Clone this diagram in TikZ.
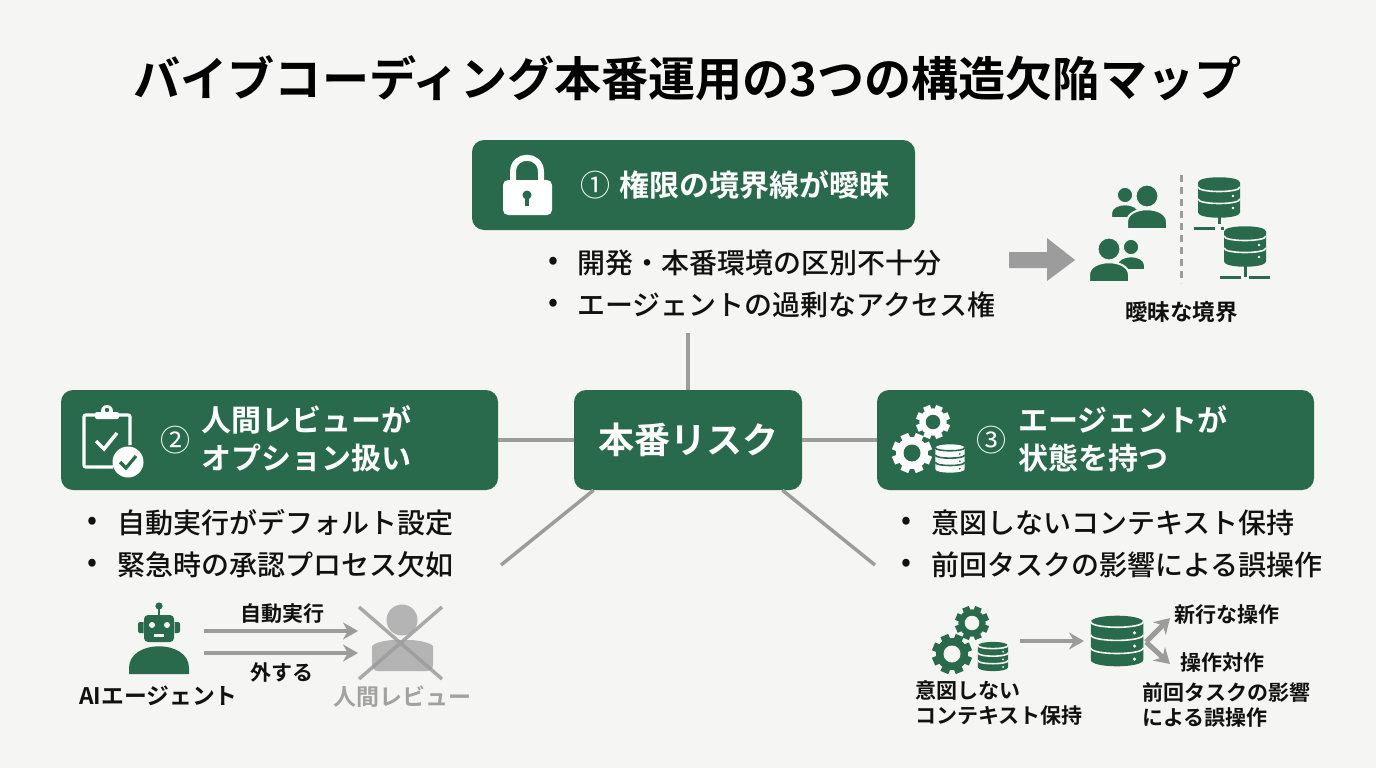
\documentclass[tikz,border=0pt]{standalone}
\usepackage{fontspec}
\usetikzlibrary{positioning,arrows.meta}
\setmainfont{Noto Sans CJK JP}[BoldFont={Noto Sans CJK JP Bold}]
\newfontfamily\jpmed{Noto Sans CJK JP Medium}
\newcommand{\fsz}[2]{\fontsize{#1}{#2}\selectfont}
\definecolor{boxgreen}{HTML}{2A6A4C}
\definecolor{paper}{HTML}{F5F5F3}
\definecolor{inkblack}{HTML}{111111}
\definecolor{linegrey}{HTML}{9C9C9C}
\definecolor{fadegrey}{HTML}{B4B4B4}

\tikzset{
  headbox/.style={draw=none, fill=boxgreen, rounded corners=12pt, inner sep=0pt},
  headtext/.style={anchor=west, inner sep=0pt, text=white, align=left, font={\fsz{30}{38}\bfseries}},
  numtext/.style={inner sep=0pt, text=white, font=\fsz{30}{30}},
  bullet/.style={anchor=west, inner sep=0pt, text=inkblack, font={\fsz{28}{28}\jpmed}},
  caption/.style={inner sep=0pt, text=inkblack, align=left, font={\fsz{21}{25}\bfseries}},
  conn/.style={draw=linegrey, line width=3.5pt},
  flow/.style={draw=linegrey, line width=4pt, -{Stealth[length=15pt,width=17pt]}},
  pics/dbicon/.style n args={3}{code={
    \fill[#1] (-21,-15) -- (-21,15) .. controls (-21,22) and (21,22) .. (21,15)
      -- (21,-15) .. controls (21,-22) and (-21,-22) .. (-21,-15) -- cycle;
    \foreach \s in {#3} {
      \draw[#2, line width=1.6pt] (-21,\s) .. controls (-21,\s+6) and (21,\s+6) .. (21,\s);
      \fill[#2] (14,\s+9) circle (1.4);
    }
  }},
  pics/gearicon/.style 2 args={code={
    \foreach \a in {0,45,90,135}
      \fill[#1, rotate=\a+22.5] (-4.2,-20) rectangle (4.2,20);
    \fill[#1] (0,0) circle (16);
    \fill[#2] (0,0) circle (8.5);
  }},
  pics/personicon/.style 2 args={code={
    \fill[#1, draw=#2, line width=2pt] (-20,33) -- (-20,26) .. controls (-20,9) and (20,9) .. (20,26) -- (20,33) -- cycle;
    \fill[#1, draw=#2, line width=1pt] (0,0) circle (11);
  }}
}

\begin{document}
\begin{tikzpicture}[x=1pt, y=-1pt, >=stealth]

  % Sheet
  \fill[paper] (0,0) rectangle (1376,768);
  \useasboundingbox (0,0) rectangle (1376,768);

  \node[inner sep=0pt, text=black, font={\fsz{47.1}{47}\bfseries}] (title) at (687.5,78) {バイブコーディング本番運用の3つの構造欠陥マップ};

  % Define nodes
  \node[headbox, minimum width=443pt, minimum height=90pt]  (head1) at (693.5,185) {};
  \node[headbox, minimum width=437pt, minimum height=100pt] (head2) at (279.5,440) {};
  \node[headbox, minimum width=437pt, minimum height=100pt] (head3) at (1095.5,440) {};
  \node[headbox, minimum width=228pt, minimum height=100pt, text=white, font={\fsz{36}{36}\bfseries}] (risk) at (688,440) {本番リスク};

  \node[numtext] (num1) at (595,185) {①};
  \node[numtext] (num2) at (175,440) {②};
  \node[numtext] (num3) at (991,440) {③};
  \node[headtext] (head1t) at (619,185) {権限の境界線が曖昧};
  \node[headtext] (head2t) at (201,439) {人間レビューが\\オプション扱い};
  \node[headtext] (head3t) at (1018,439) {エージェントが\\状態を持つ};

  % Bullets
  \node[bullet] (dot1a) at (548,263) {•};
  \node[bullet] (txt1a) at (577,263) {開発・本番環境の区別不十分};
  \node[bullet, below=42pt of dot1a.west, anchor=west] (dot1b) {•};
  \node[bullet, below=42pt of txt1a.west, anchor=west] (txt1b) {エージェントの過剰なアクセス権};
  \node[bullet] (dot2a) at (87,523) {•};
  \node[bullet] (txt2a) at (117,523) {自動実行がデフォルト設定};
  \node[bullet, below=42pt of dot2a.west, anchor=west] (dot2b) {•};
  \node[bullet, below=42pt of txt2a.west, anchor=west] (txt2b) {緊急時の承認プロセス欠如};
  \node[bullet] (dot3a) at (901,523) {•};
  \node[bullet] (txt3a) at (931,523) {意図しないコンテキスト保持};
  \node[bullet, below=42pt of dot3a.west, anchor=west] (dot3b) {•};
  \node[bullet, below=42pt of txt3a.west, anchor=west] (txt3b) {前回タスクの影響による誤操作};

  % Connect the nodes
  \coordinate (stubtop) at (688,333);
  \coordinate (stubleft) at (501,565);
  \coordinate (stubright) at (875,565);
  \draw[conn] (risk.north) -- (stubtop);
  \draw[conn] (risk.west) -- (head2.east);
  \draw[conn] (risk.east) -- (head3.west);
  \draw[conn] (risk.208) -- (stubleft);
  \draw[conn] (risk.-28) -- (stubright);

  % Lock
  \draw[white, line width=6pt] (513,182) -- (513,172) .. controls (513,153) and (541,153) .. (541,172) -- (541,182);
  \fill[white, rounded corners=5pt] (503,180) rectangle (552,215);
  \fill[boxgreen] (527,195) circle (4.5);
  \fill[boxgreen] (525,196) rectangle (529,206);

  % Clipboard
  \draw[white, line width=3.2pt, rounded corners=2pt] (113,467) -- (84,467) -- (84,415) -- (130,415) -- (130,445);
  \fill[white, rounded corners=2pt] (95,412) rectangle (119,419);
  \fill[white] (107,411) circle (6);
  \fill[boxgreen] (107,410) circle (2.2);
  \draw[white, line width=3.5pt] (96,441) -- (104,449) -- (117,433);
  \fill[white] (128,462) circle (15.5);
  \draw[boxgreen, line width=3.2pt] (120,462) -- (126,468) -- (136,456);

  % Gears in the third box
  \pic[scale=.85] at (933,422) {gearicon={white}{boxgreen}};
  \pic at (912,453) {gearicon={white}{boxgreen}};
  \pic[scale=.7] at (950,458.5) {dbicon={white}{boxgreen}{-15.5,-5,5.5}};

  % Ambiguous boundary
  \fill[linegrey] (1009,252) -- (1047,252) -- (1047,238) -- (1075,260) -- (1047,281) -- (1047,268) -- (1009,268) -- cycle;
  \pic[scale=.7] at (1125,195) {personicon={boxgreen}{paper}};
  \pic at (1147,196) {personicon={boxgreen}{paper}};
  \pic[scale=.7] at (1131,247) {personicon={boxgreen}{paper}};
  \pic at (1109,249) {personicon={boxgreen}{paper}};
  \draw[linegrey, line width=3pt, dash pattern=on 7pt off 5pt] (1181,175) -- (1181,283);
  \draw[boxgreen, line width=3pt] (1219,215) -- (1219,224);
  \draw[boxgreen, line width=3pt] (1194,228.5) -- (1215,228.5) (1221,228.5) -- (1224,228.5);
  \pic at (1219,197.5) {dbicon={boxgreen}{paper}{-10.5,1.5}};
  \draw[boxgreen, line width=3pt] (1245,265) -- (1245,277);
  \draw[boxgreen, line width=3pt] (1220,277.5) -- (1241,277.5) (1249,277.5) -- (1270,277.5);
  \pic at (1245,246.5) {dbicon={boxgreen}{paper}{-10.5,1.5}};
  \node[caption, font={\fsz{22.5}{26}\bfseries}] (boundary) at (1181.5,312) {曖昧な境界};

  % Robot to review
  \fill[boxgreen] (159,606) circle (3.6);
  \draw[boxgreen, line width=2pt] (159,606) -- (159,616);
  \fill[boxgreen, rounded corners=2pt] (138,622) rectangle (180,633);
  \fill[paper] (143.5,620) rectangle (144.5,635) (173.5,620) rectangle (174.5,635);
  \fill[boxgreen, rounded corners=4pt] (144,615) rectangle (174,642);
  \fill[paper] (152,625) circle (3) (167,625) circle (3);
  \fill[paper] (154,634) rectangle (164,636.5);
  \fill[boxgreen] (129,674) -- (129,668) .. controls (129,639) and (189,639) .. (189,668) -- (189,674) -- cycle;
  \node[caption, font={\fsz{22.8}{26}\bfseries}] (agent) at (158.5,696) {AIエージェント};

  \fill[fadegrey] (402,620) circle (15.5);
  \fill[fadegrey, rounded corners=6pt] (372,671) -- (372,652) .. controls (372,645) and (380,640) .. (402,640) .. controls (424,640) and (433,645) .. (433,652) -- (433,671) -- cycle;
  \draw[linegrey, line width=3.5pt, opacity=.85] (359,607) -- (442,679) (442,607) -- (359,679);
  \node[caption, text=fadegrey!90!black, font={\fsz{23}{26}\bfseries}] (review) at (402,697) {人間レビュー};

  \coordinate (autoa) at (204,631);
  \coordinate (autob) at (358,631);
  \coordinate (dropa) at (204,653);
  \coordinate (dropb) at (358,653);
  \draw[flow] (autoa) -- (autob);
  \draw[flow] (dropa) -- (dropb);
  \node[caption] (autolbl) at (282,614) {自動実行};
  \node[caption] (droplbl) at (281.5,672) {外する};

  % Stale state
  \pic[scale=.85] at (972,623) {gearicon={boxgreen}{paper}};
  \pic at (952,654) {gearicon={boxgreen}{paper}};
  \pic[scale=.72] at (993,656.5) {dbicon={boxgreen}{paper}{-15.5,-5,5.5}};
  \pic[scale=1.25] at (1117,641) {dbicon={boxgreen}{paper}{-15.5,-5,5.5}};
  \coordinate (statea) at (1020,641);
  \coordinate (stateb) at (1084,641);
  \coordinate (forkroot) at (1146,642);
  \coordinate (forkup) at (1170,618);
  \coordinate (forkdown) at (1170,664);
  \draw[flow] (statea) -- (stateb);
  \draw[flow, line width=5pt, -{Stealth[length=15pt,width=18pt]}] (forkroot) -- (forkup);
  \draw[flow, line width=5pt, -{Stealth[length=15pt,width=18pt]}] (forkroot) -- (forkdown);
  \node[caption, anchor=west] (opnew) at (1174,615) {新行な操作};
  \node[caption, anchor=west] (oppair) at (1180,663) {操作対作};
  \node[caption, anchor=west] (opmiss) at (1142,704.5) {前回タスクの影響\\による誤操作};
  \node[caption, anchor=west] (keep) at (915,703.5) {意図しない\\コンテキスト保持};

\end{tikzpicture}
\end{document}
